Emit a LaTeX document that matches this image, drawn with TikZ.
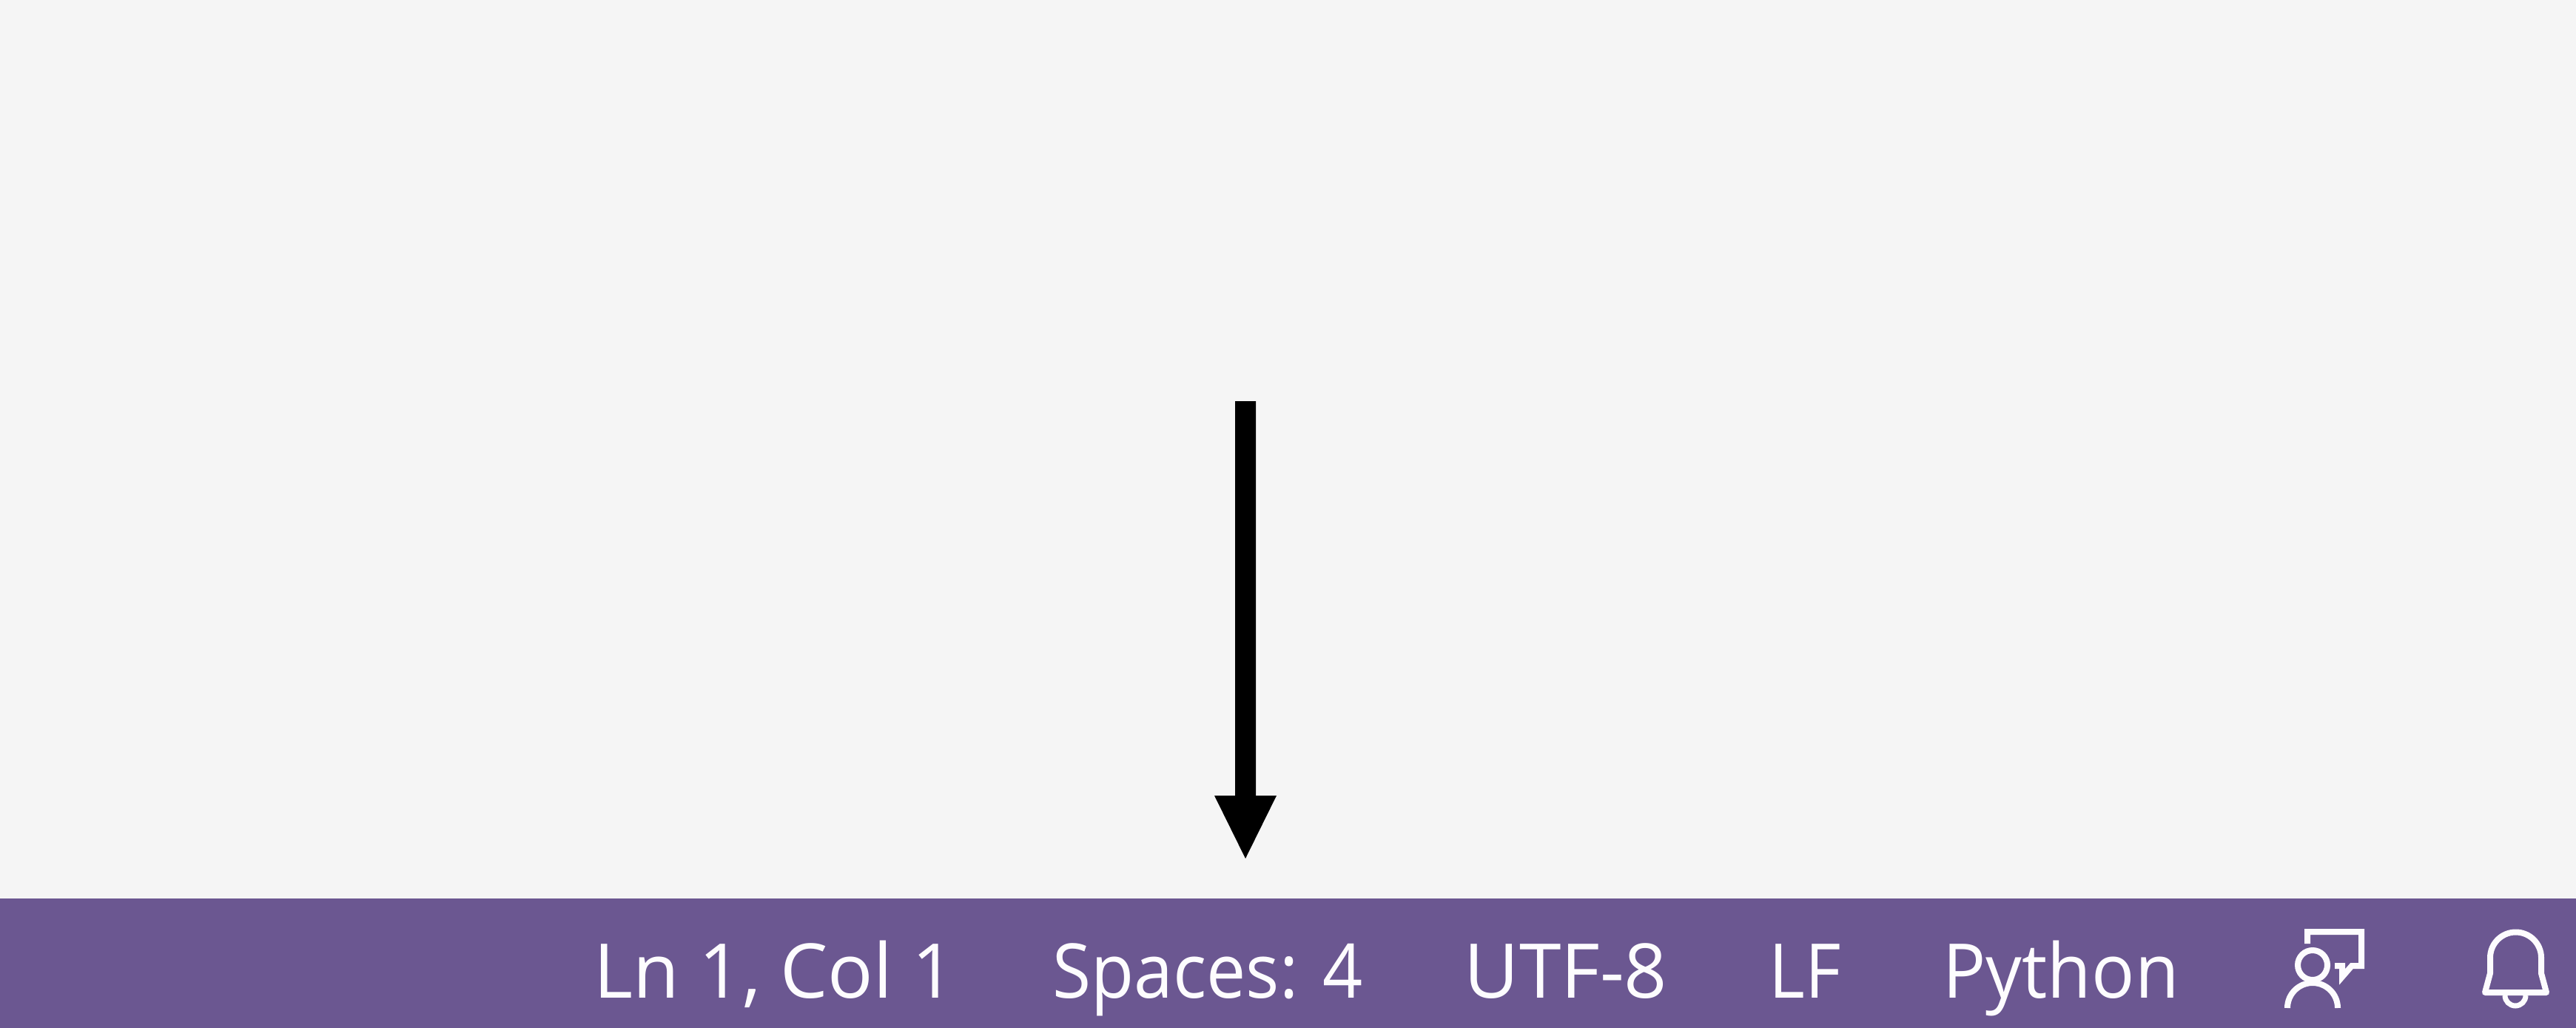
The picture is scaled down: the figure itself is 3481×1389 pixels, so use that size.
\documentclass[tikz,border=0pt]{standalone}
\usepackage{fontspec}
\setmainfont{Open Sans}
\definecolor{bgc}{HTML}{F5F5F5}
\definecolor{barc}{HTML}{6B5791}
\definecolor{txc}{HTML}{FDFCFE}
\tikzset{x=1pt,y=-1pt,
 lab/.style={text=txc,font=\fontsize{102}{102}\selectfont,inner sep=0pt,anchor=base},
 ico/.style={draw=txc,line width=8pt,miter limit=10,fill=none}}
\begin{document}
\begin{tikzpicture}
\useasboundingbox (0,0) rectangle (3481,1389);
\fill[bgc] (0,0) rectangle (3481,1389);
\fill[barc] (0,1214) rectangle (3481,1389);
\fill[black] (1669,542) -- (1697,542) -- (1697,1075) -- (1725,1075) -- (1683,1160) -- (1641,1075) -- (1669,1075) -- cycle;
\node[lab] (ln) at (1047,1348) {Ln 1, Col 1};
\node[lab] (sp) at (1632,1348) {\scalebox{.93}[1]{Spaces: 4}};
\node[lab] (ut) at (2116,1348) {UTF-8};
\node[lab] (lf) at (2439,1348) {\scalebox{.92}[1]{LF}};
\node[lab] (py) at (2785,1348) {\scalebox{.95}[1]{Python}};
% person with speech bubble
\draw[ico] (3125,1304) circle (20);
\draw[ico] (3091,1362) arc[start angle=180,end angle=360,radius=34];
\draw[ico] (3118,1275) -- (3118,1259) -- (3191,1259) -- (3191,1305) -- (3178,1305) -- (3165,1320) -- (3165,1305) -- (3155,1305);
% bell
\draw[ico,line join=round] (3365,1294) arc[start angle=180,end angle=360,radius=34.5] -- (3434,1315) -- (3441,1341) -- (3358,1341) -- (3365,1315) -- cycle;
\draw[ico,line width=7pt] (3385,1345) arc[start angle=180,end angle=0,radius=14];
\end{tikzpicture}
\end{document}
